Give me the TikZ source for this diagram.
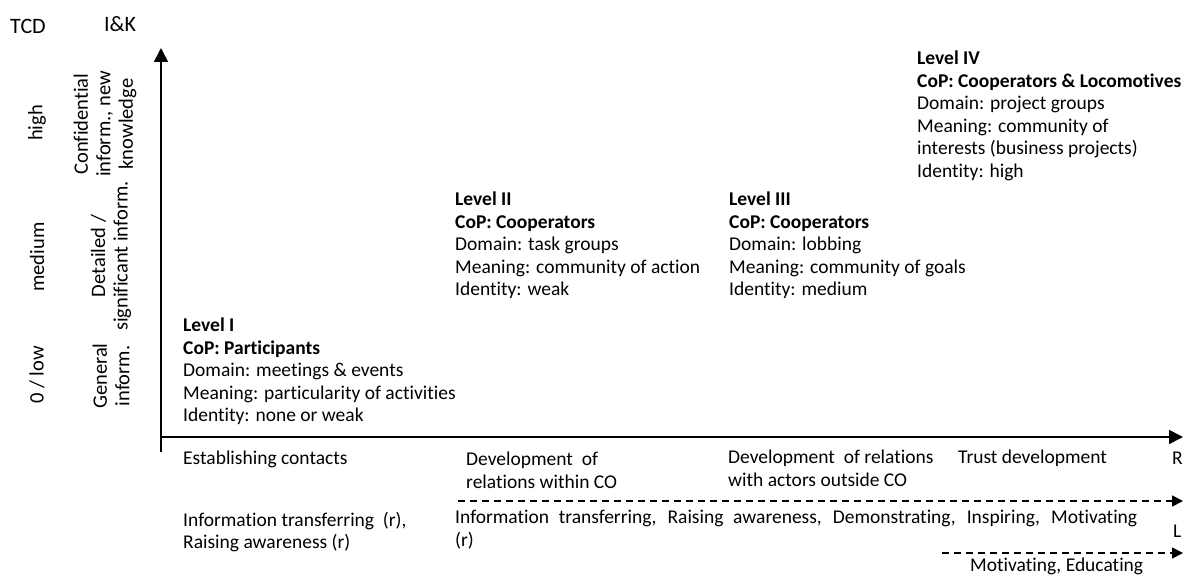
\documentclass[tikz,border=0pt]{standalone}
\usepackage{fontspec}
\setmainfont[Ligatures=NoCommon]{Carlito}
\usetikzlibrary{arrows.meta}
\begin{document}
\begin{tikzpicture}[x=1pt,y=-1pt,
        txt/.style={anchor=north west,align=left,inner sep=0pt,font=\fontsize{19.5}{22.5}\selectfont},
        head/.style={inner sep=0pt,font=\fontsize{22}{24}\selectfont},
        rot/.style={rotate=90,align=center,inner sep=0pt,font=\fontsize{20.5}{22.5}\selectfont},
        axis/.style={line width=1.6pt,-{Triangle[length=14pt,width=14pt]}},
        dashline/.style={line width=1.6pt,dash pattern=on 7pt off 5pt,-{Triangle[length=11pt,width=11pt]}}]
    \useasboundingbox (0,0) rectangle (1193,575);
    %% Axes
    \coordinate (O) at (161,452);
    \coordinate (Ytop) at (161,48);
    \coordinate (Xl) at (161,437);
    \coordinate (Xr) at (1183,437);
    \draw[axis] (O) -- (Ytop);
    \draw[axis] (Xl) -- (Xr);
    %% Column heads
    \node[head] (tcd) at (28,26) {TCD};
    \node[head] (ik) at (120,24) {I\&K};
    %% TCD scale
    \node[rot] (high) at (37,123) {high};
    \node[rot] (medium) at (37,257) {medium};
    \node[rot] (low) at (37,375) {0 / low};
    %% I&K scale
    \node[rot] (conf) at (105,124) {Confidential\\inform., new\\knowledge};
    \node[rot] (detail) at (111,256) {Detailed /\\significant inform.};
    \node[rot] (general) at (111,376) {General\\inform.};
    %% Levels
    \node[txt] (lvlI) at (183,318) {\textbf{Level I}\\\textbf{CoP: Participants}\\Domain: meetings \& events\\Meaning: particularity of activities\\Identity: none or weak};
    \node[txt] (lvlII) at (455,192) {\textbf{Level II}\\\textbf{CoP: Cooperators}\\Domain: task groups\\Meaning: community of action\\Identity: weak};
    \node[txt] (lvlIII) at (729,192) {\textbf{Level III}\\\textbf{CoP: Cooperators}\\Domain: lobbing\\Meaning: community of goals\\Identity: medium};
    \node[txt] (lvlIV) at (917,51) {\textbf{Level IV}\\\textbf{CoP: Cooperators \& Locomotives}\\Domain: project groups\\Meaning: community of\\interests (business projects)\\Identity: high};
    %% Relations
    \node[txt] (estab) at (183,451) {Establishing contacts};
    \node[txt] (within) at (466,452) {Development~ of\\relations within CO};
    \node[txt] (outside) at (728,450) {Development~ of relations\\with actors outside CO};
    \node[txt] (trust) at (958,450) {Trust development};
    \node[txt] (R) at (1172,452) {R};
    %% Learning
    \coordinate (L1a) at (458,501);
    \coordinate (L1b) at (1183,501);
    \draw[dashline] (L1a) -- (L1b);
    \node[txt] (infoI) at (183,512) {Information transferring~ (r),\\Raising awareness (r)};
    \node[txt,text width=682pt,align=justify] (infoII) at (455,510) {Information transferring, Raising awareness, Demonstrating, Inspiring, Motivating\linebreak (r)};
    \node[txt] (L) at (1173,525) {L};
    \coordinate (L2a) at (942,553);
    \coordinate (L2b) at (1183,553);
    \draw[dashline] (L2a) -- (L2b);
    \node[txt] (motiv) at (970,558) {Motivating, Educating};
\end{tikzpicture}
\end{document}
